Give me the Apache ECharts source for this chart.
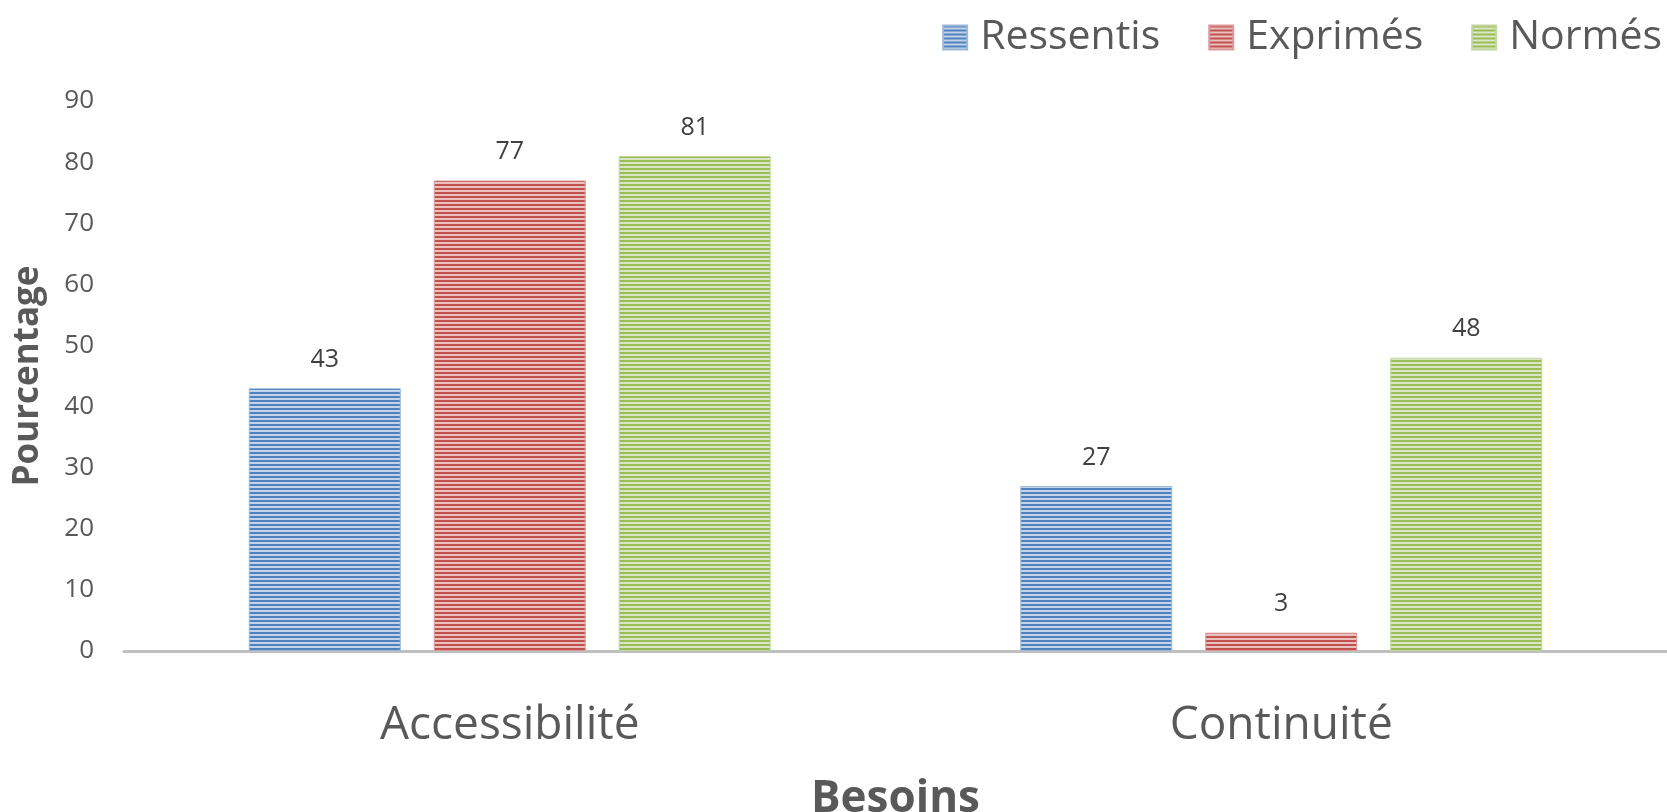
<!DOCTYPE html>
<html><head><meta charset="utf-8">
<script src="https://cdn.jsdelivr.net/npm/echarts@6/dist/echarts.min.js"></script>
<style>html,body{margin:0;padding:0;background:#fff}#c{width:1667px;height:812px}</style>
</head><body><div id="c"></div>
<script>
const categories = ['Accessibilité', 'Continuité'];
const seriesNames = ['Ressentis', 'Exprimés', 'Normés'];
const ressentis = [43, 27];
const exprimes = [77, 3];
const normes = [81, 48];
const yTicks = [0, 10, 20, 30, 40, 50, 60, 70, 80, 90];

function stripes(dark, light) {
  const c = document.createElement('canvas');
  c.width = 4; c.height = 4;
  const g = c.getContext('2d');
  g.fillStyle = light; g.fillRect(0, 0, 4, 4);
  g.fillStyle = dark; g.fillRect(0, 0, 4, 2);
  return { image: c, repeat: 'repeat' };
}
const pal = [
  stripes('#4f81bd', '#c3d3e9'),
  stripes('#c0504d', '#ebc1c0'),
  stripes('#9bbb59', '#dbe7c4')
];
const borders = ['#9db7d9', '#dc9a99', '#c3d69f'];
const values = [ressentis, exprimes, normes];
const FONT = 'Open Sans';

const chart = echarts.init(document.getElementById('c'), null, { renderer: 'canvas' });
chart.setOption({
  animation: false,
  textStyle: { fontFamily: FONT },
  legend: {
    top: 12, right: 0, itemWidth: 24, itemHeight: 24, itemGap: 48,
    icon: 'rect',
    textStyle: { fontSize: 41, color: '#595959', fontFamily: FONT, padding: [0, 0, 0, 8] },
    data: seriesNames
  },
  grid: { left: 124, right: 0, top: 101, bottom: 161, containLabel: false, outerBoundsMode: 'none' },
  xAxis: {
    type: 'category', data: categories,
    name: 'Besoins', nameLocation: 'middle', nameGap: 126,
    nameTextStyle: { fontSize: 44, fontWeight: 'bold', color: '#595959', fontFamily: FONT },
    axisLine: { lineStyle: { color: '#bfbfbf', width: 3 } },
    axisTick: { show: false },
    axisLabel: { fontSize: 46, color: '#595959', margin: 52, fontFamily: FONT }
  },
  yAxis: {
    type: 'value', min: yTicks[0], max: yTicks[yTicks.length - 1], interval: 10,
    name: 'Pourcentage', nameLocation: 'middle', nameGap: 78,
    nameTextStyle: { fontSize: 35, fontWeight: 'bold', color: '#595959', fontFamily: FONT },
    axisLine: { show: false }, axisTick: { show: false },
    splitLine: { show: false },
    axisLabel: { fontSize: 26, color: '#595959', margin: 30, fontFamily: FONT }
  },
  series: seriesNames.map((n, i) => ({
    name: n, type: 'bar', data: values[i],
    barWidth: 152, barGap: '21.7%',
    itemStyle: { color: pal[i], borderColor: borders[i], borderWidth: 1 },
    label: { show: true, position: 'top', distance: 16, fontSize: 25, color: '#404040', fontFamily: FONT }
  }))
});
</script></body></html>
